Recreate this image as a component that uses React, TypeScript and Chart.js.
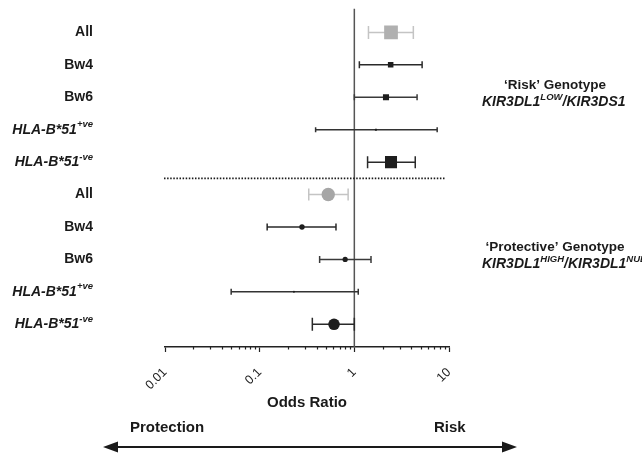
import React, { useEffect, useRef } from "react";
import { Chart, registerables } from "chart.js";
Chart.register(...registerables);

const FAMILY = '"Liberation Sans", Arial, Helvetica, sans-serif';

// Row labels (main text + superscript)
const labelMain = ["All", "Bw4", "Bw6", "HLA-B*51", "HLA-B*51", "All", "Bw4", "Bw6", "HLA-B*51", "HLA-B*51"];
const labelSup = ["", "", "", "+ve", "-ve", "", "", "", "+ve", "-ve"];
const labelItalic = [false, false, false, true, true, false, false, false, true, true];

// 'Risk' genotype KIR3DL1-LOW/KIR3DS1
const riskOR = [2.44, 2.42, 2.16, 1.69, 2.44];
const riskLo = [1.41, 1.13, 1.0, 0.39, 1.38];
const riskHi = [4.2, 5.2, 4.6, 7.5, 4.4];

// 'Protective' genotype KIR3DL1-HIGH/KIR3DL1-NULL
const protOR = [0.53, 0.28, 0.8, 0.23, 0.61];
const protLo = [0.33, 0.12, 0.43, 0.05, 0.36];
const protHi = [0.86, 0.64, 1.5, 1.1, 1.0];

const xTickLabels = [0.01, 0.1, 1, 10];

// styles
const riskRadius = [9.7, 3.9, 4.3, 1.4, 8.5];
const protRadius = [6.7, 2.7, 2.6, 1.0, 5.8];
const markerColor = ["#b0b0b0", "#1e1e1e", "#1e1e1e", "#1e1e1e", "#1e1e1e"];
const barColor = ["#c4c4c4", "#2a2a2a", "#3a3a3a", "#333333", "#2a2a2a"];
const capHalf = [6.5, 3.5, 3, 2.5, 6, 6, 3.5, 3.5, 3, 6.5];

type Seg = { t: string; font: string; dy: number };

function segWidth(ctx: CanvasRenderingContext2D, segs: Seg[]) {
  let w = 0;
  for (const s of segs) {
    ctx.font = s.font;
    w += ctx.measureText(s.t).width;
  }
  return w;
}
function drawSegs(ctx: CanvasRenderingContext2D, segs: Seg[], x: number, y: number) {
  let cx = x;
  ctx.textAlign = "left";
  ctx.textBaseline = "middle";
  for (const s of segs) {
    ctx.font = s.font;
    ctx.fillText(s.t, cx, y + s.dy);
    cx += ctx.measureText(s.t).width;
  }
}

const forestPlugin = {
  id: "forest",
  beforeDatasetsDraw(chart: any) {
    const { ctx, chartArea, scales } = chart;
    const xs = scales.x;
    const ys = scales.y;
    ctx.save();
    // reference line at OR = 1
    const x1 = xs.getPixelForValue(1);
    ctx.strokeStyle = "#555";
    ctx.lineWidth = 1.5;
    ctx.beginPath();
    ctx.moveTo(x1, chartArea.top - 1);
    ctx.lineTo(x1, chartArea.bottom);
    ctx.stroke();
    // dotted separator
    const yd = ys.getPixelForValue(4.5);
    ctx.strokeStyle = "#1a1a1a";
    ctx.lineWidth = 1.6;
    ctx.setLineDash([1.5, 1.6]);
    ctx.beginPath();
    ctx.moveTo(chartArea.left - 1, yd);
    ctx.lineTo(chartArea.right - 3, yd);
    ctx.stroke();
    ctx.setLineDash([]);
    // error bars
    const lo = [...riskLo, ...protLo];
    const hi = [...riskHi, ...protHi];
    for (let i = 0; i < lo.length; i++) {
      const y = ys.getPixelForValue(i);
      const a = xs.getPixelForValue(lo[i]);
      const b = xs.getPixelForValue(hi[i]);
      const h = capHalf[i];
      ctx.strokeStyle = barColor[i % 5];
      ctx.lineWidth = 1.5;
      ctx.beginPath();
      ctx.moveTo(a, y);
      ctx.lineTo(b, y);
      ctx.moveTo(a, y - h);
      ctx.lineTo(a, y + h);
      ctx.moveTo(b, y - h);
      ctx.lineTo(b, y + h);
      ctx.stroke();
    }
    ctx.restore();
  },
  afterDraw(chart: any) {
    const { ctx, chartArea, scales } = chart;
    const xs = scales.x;
    const ys = scales.y;
    ctx.save();
    // minor ticks
    ctx.strokeStyle = "#222";
    ctx.lineWidth = 1.2;
    for (const t of xs.ticks) {
      if (t.major) continue;
      const px = Math.round(xs.getPixelForValue(t.value)) + 0.5;
      ctx.beginPath();
      ctx.moveTo(px, chartArea.bottom);
      ctx.lineTo(px, chartArea.bottom + 2.5);
      ctx.stroke();
    }
    // row labels
    ctx.fillStyle = "#1a1a1a";
    for (let i = 0; i < labelMain.length; i++) {
      const it = labelItalic[i] ? "italic " : "";
      const segs: Seg[] = [{ t: labelMain[i], font: `${it}bold 14px ${FAMILY}`, dy: 0 }];
      if (labelSup[i]) segs.push({ t: labelSup[i], font: `${it}bold 9.5px ${FAMILY}`, dy: -5 });
      const w = segWidth(ctx, segs);
      drawSegs(ctx, segs, 93 - w, ys.getPixelForValue(i));
    }
    // group annotations
    const cx = 555;
    const groupsTitle = ["\u2018Risk\u2019 Genotype", "\u2018Protective\u2019 Genotype"];
    const groupLine2: Seg[][] = [
      [
        { t: "KIR3DL1", font: `italic bold 14px ${FAMILY}`, dy: 0 },
        { t: "LOW", font: `italic bold 9.5px ${FAMILY}`, dy: -5 },
        { t: "/KIR3DS1", font: `italic bold 14px ${FAMILY}`, dy: 0 },
      ],
      [
        { t: "KIR3DL1", font: `italic bold 14px ${FAMILY}`, dy: 0 },
        { t: "HIGH", font: `italic bold 9.5px ${FAMILY}`, dy: -5 },
        { t: "/KIR3DL1", font: `italic bold 14px ${FAMILY}`, dy: 0 },
        { t: "NULL", font: `italic bold 9.5px ${FAMILY}`, dy: -5 },
      ],
    ];
    const groupRow = [1.62, 6.62];
    for (let g = 0; g < 2; g++) {
      const y1 = ys.getPixelForValue(groupRow[g]);
      ctx.font = `bold 13.5px ${FAMILY}`;
      ctx.textAlign = "center";
      ctx.textBaseline = "middle";
      ctx.fillText(groupsTitle[g], cx, y1);
      drawSegs(ctx, groupLine2[g], 482, y1 + 17);
    }
    // Protection / Risk
    ctx.font = `bold 15px ${FAMILY}`;
    ctx.textAlign = "left";
    ctx.textBaseline = "middle";
    ctx.fillText("Protection", 130, 428);
    ctx.fillText("Risk", 434, 428);
    // double arrow
    const ay = 447;
    const ax0 = 103;
    const ax1 = 517;
    ctx.strokeStyle = "#1a1a1a";
    ctx.lineWidth = 2;
    ctx.beginPath();
    ctx.moveTo(ax0 + 10, ay);
    ctx.lineTo(ax1 - 10, ay);
    ctx.stroke();
    ctx.beginPath();
    ctx.moveTo(ax0, ay);
    ctx.lineTo(ax0 + 15, ay - 5.5);
    ctx.lineTo(ax0 + 15, ay + 5.5);
    ctx.closePath();
    ctx.moveTo(ax1, ay);
    ctx.lineTo(ax1 - 15, ay - 5.5);
    ctx.lineTo(ax1 - 15, ay + 5.5);
    ctx.closePath();
    ctx.fill();
    ctx.restore();
  },
};

export default function App() {
  const ref = useRef<HTMLCanvasElement | null>(null);
  useEffect(() => {
    if (!ref.current) return;
    const riskPts = riskOR.map((v, i) => ({ x: v, y: i }));
    const protPts = protOR.map((v, i) => ({ x: v, y: i + 5 }));
    const chart = new Chart(ref.current, {
      type: "scatter",
      data: {
        datasets: [
          {
            label: "Risk",
            data: riskPts,
            pointStyle: "rect",
            pointRadius: riskRadius,
            backgroundColor: markerColor,
            borderColor: markerColor,
            borderWidth: 0,
          },
          {
            label: "Protective",
            data: protPts,
            pointStyle: "circle",
            pointRadius: protRadius,
            backgroundColor: markerColor.map((c, i) => (i === 0 ? "#a6a6a6" : c)),
            borderColor: markerColor,
            borderWidth: 0,
          },
        ],
      },
      options: {
        animation: false,
        responsive: false,
        layout: { padding: { left: 165, right: 193, top: 8, bottom: 43 } },
        plugins: { legend: { display: false }, tooltip: { enabled: false } },
        scales: {
          x: {
            type: "logarithmic",
            min: xTickLabels[0],
            max: xTickLabels[xTickLabels.length - 1],
            afterBuildTicks: (s: any) => {
              const ticks: any[] = [];
              for (let d = 0; d < xTickLabels.length; d++) {
                const base = xTickLabels[d];
                const maxM = d === xTickLabels.length - 1 ? 1 : 9;
                for (let m = 1; m <= maxM; m++) {
                  ticks.push({ value: m === 1 ? base : base * m, major: m === 1 });
                }
              }
              s.ticks = ticks;
            },
            afterFit: (s: any) => {
              s.height = 65;
            },
            ticks: {
              autoSkip: false,
              minRotation: 45,
              maxRotation: 45,
              padding: 13,
              color: "#222",
              font: { size: 12.5, family: FAMILY },
              callback: (v: any) => (xTickLabels.includes(v) ? String(v) : ""),
            },
            grid: {
              drawOnChartArea: false,
              tickLength: 5,
              tickWidth: 1.2,
              tickColor: (c: any) => (c.tick && c.tick.major ? "#222" : "rgba(0,0,0,0)"),
            },
            border: { display: true, color: "#222", width: 1.5 },
            title: {
              display: true,
              text: "Odds Ratio",
              color: "#1a1a1a",
              font: { size: 15, weight: "bold", family: FAMILY },
              padding: 0,
            },
          },
          y: {
            type: "linear",
            min: -0.7,
            max: 9.7,
            reverse: true,
            display: false,
          },
        },
      },
      plugins: [forestPlugin],
    });
    return () => chart.destroy();
  }, []);
  return (
    <div style={{ position: "absolute", left: 0, top: 0, width: 642, height: 455, background: "#fff" }}>
      <canvas ref={ref} width={642} height={455} style={{ width: 642, height: 455 }} />
    </div>
  );
}
